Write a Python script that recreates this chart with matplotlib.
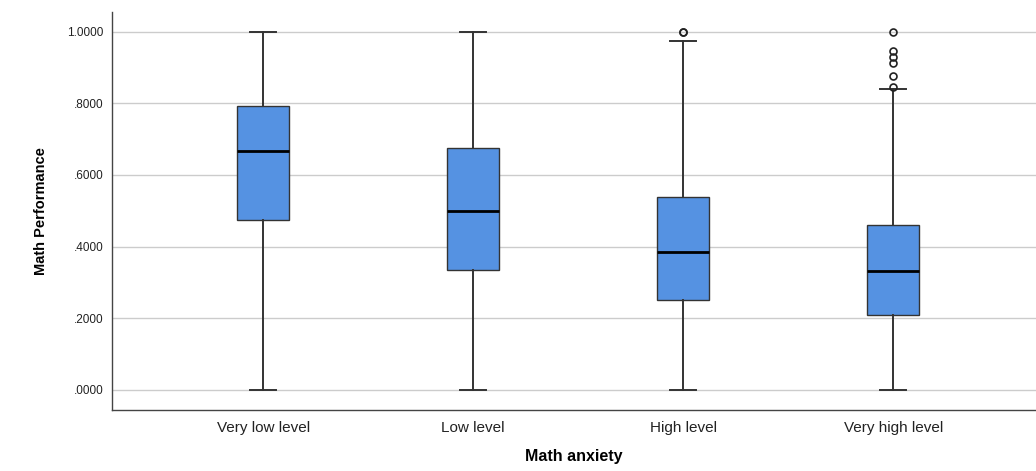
import matplotlib.pyplot as plt

categories = ['Very low level', 'Low level', 'High level', 'Very high level']
whislo = [0.0, 0.0, 0.0, 0.0]
q1 = [0.474, 0.335, 0.251, 0.208]
med = [0.667, 0.500, 0.385, 0.333]
q3 = [0.793, 0.675, 0.539, 0.460]
whishi = [1.0, 1.0, 0.974, 0.839]
fliers = [[], [], [1.0, 1.0], [1.0, 0.947, 0.928, 0.912, 0.875, 0.846]]

yticks = [0.0, 0.2, 0.4, 0.6, 0.8, 1.0]
ytick_labels = ['.0000', '.2000', '.4000', '.6000', '.8000', '1.0000']

stats = []
for i in range(len(categories)):
    stats.append({'label': categories[i], 'whislo': whislo[i], 'q1': q1[i],
                  'med': med[i], 'q3': q3[i], 'whishi': whishi[i], 'fliers': fliers[i]})

fig = plt.figure(figsize=(10.36, 4.71), dpi=100)
ax = fig.add_axes([112 / 1036, 1 - 410 / 471, (1036 - 112) / 1036, (410 - 12) / 471])

ax.bxp(stats, positions=range(len(categories)), widths=0.25, patch_artist=True,
       boxprops=dict(facecolor='#5592e2', edgecolor='#333333', linewidth=1.0),
       medianprops=dict(color='black', linewidth=2.0),
       whiskerprops=dict(color='#333333', linewidth=1.4),
       capprops=dict(color='#333333', linewidth=1.4),
       capwidths=0.125,
       flierprops=dict(marker='o', markerfacecolor='none', markeredgecolor='#222222',
                       markersize=5, markeredgewidth=1.2))

ax.set_xlim(-0.72, 3.68)
ax.set_ylim(-0.056, 1.055)
ax.set_yticks(yticks)
ax.set_yticklabels(ytick_labels)
ax.yaxis.grid(True, color='#cccccc', linewidth=1.0)
ax.set_axisbelow(True)
ax.tick_params(axis='both', length=0)
ax.tick_params(axis='y', labelsize=8.5, pad=6)
ax.tick_params(axis='x', labelsize=11, pad=8)
for lab in ax.get_xticklabels() + ax.get_yticklabels():
    lab.set_family('Liberation Sans')
    lab.set_color('#222222')

for s in ['top', 'right']:
    ax.spines[s].set_visible(False)
for s in ['left', 'bottom']:
    ax.spines[s].set_color('#444444')
    ax.spines[s].set_linewidth(1.0)

ax.set_ylabel('Math Performance', family='Liberation Sans',
              fontsize=10.5, fontweight='bold', labelpad=14)
ax.set_xlabel('Math anxiety', family='Liberation Sans', fontsize=11.5,
              fontweight='bold', labelpad=10)

fig.savefig('out.png', dpi=100)
